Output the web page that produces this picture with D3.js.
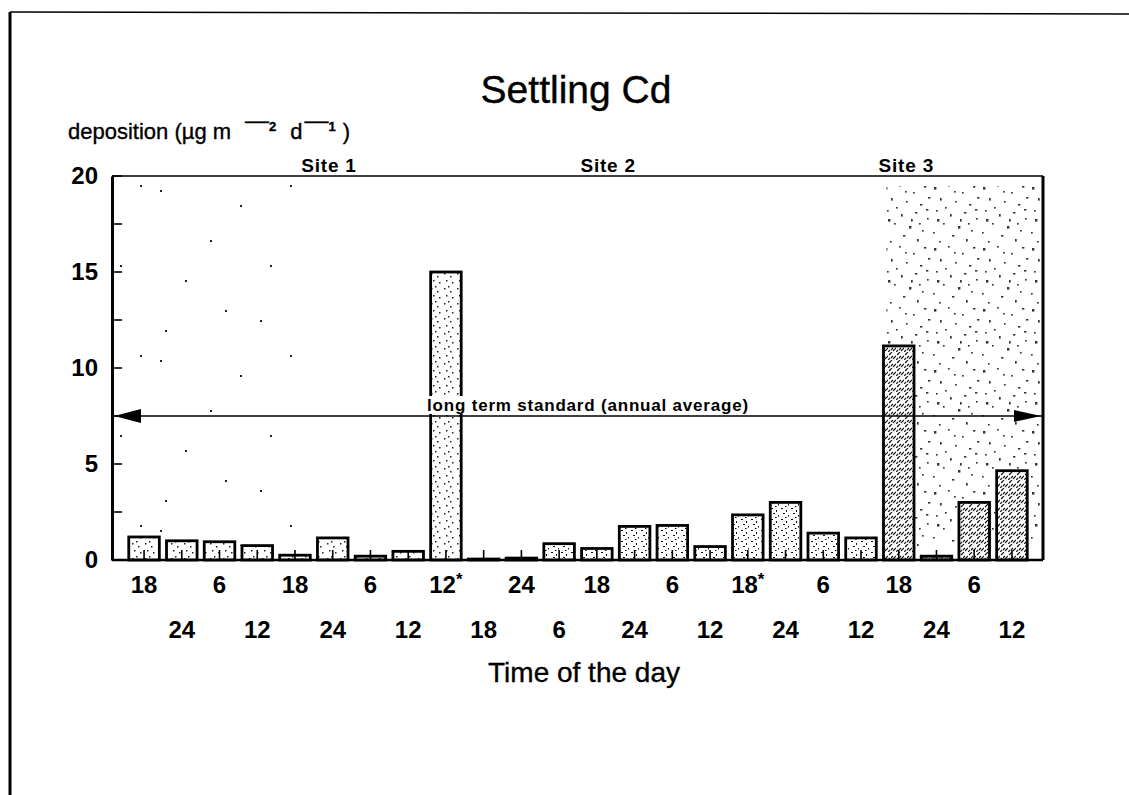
<!DOCTYPE html>
<html>
<head>
<meta charset="utf-8">
<script src="https://cdn.jsdelivr.net/npm/d3@7"></script>
<style>
  body { margin: 0; background: #fff; }
  svg { display: block; font-family: "Liberation Sans", Arial, Helvetica, sans-serif; }
</style>
</head>
<body>
<svg id="chart" width="1129" height="795"></svg>
<script>
// Sampling periods (time of day, 6-hour intervals); "*" marks flagged periods
const times = ["18","24","6","12","18","24","6","12","12*","18","24","6",
               "18","24","6","12","18*","24","6","12","18","24","6","12"];
// Settling Cd deposition per period (µg m-2 d-1)
const deposition = [1.2, 1.0, 0.95, 0.75, 0.25, 1.15, 0.2, 0.45, 15.0, 0.05, 0.1, 0.85,
                    0.6, 1.75, 1.8, 0.7, 2.35, 3.0, 1.4, 1.15, 11.15, 0.2, 3.0, 4.65];
// Site each period belongs to
const site = [1,1,1,1,1,1,1,1,1, 2,2,2,2,2,2,2,2,2,2,2, 3,3,3,3];
// Site headings and the (fractional) period index they are written above
const siteNames = ["Site 1", "Site 2", "Site 3"];
const siteAt = [4.9, 12.3, 20.2];
// Long term standard (annual average)
const standard = 7.5;
const yTicks = [0, 5, 10, 15, 20];
const yMinor = [2.5, 7.5, 12.5, 17.5];

const svg = d3.select("#chart");
const W = 1129, H = 795;
const plot = { left: 112, right: 1043, top: 176, bottom: 560 };

const x = d3.scaleBand()
  .domain(d3.range(times.length))
  .range([125, 1031])
  .paddingInner(0.19)
  .paddingOuter(0.1);
const center = i => x(0) + x.bandwidth() / 2 + i * x.step();

const y = d3.scaleLinear().domain([0, 20]).range([plot.bottom, plot.top]);

// ---- patterns -------------------------------------------------------
const defs = svg.append("defs");

// light stipple for site 1 bars
const pLight = defs.append("pattern").attr("id", "stip1")
  .attr("patternUnits", "userSpaceOnUse").attr("width", 13).attr("height", 15);
[[2,3],[8,6],[4,10],[10,12],[6,1]].forEach(([a,b]) =>
  pLight.append("rect").attr("x", a).attr("y", b).attr("width", 1.5).attr("height", 1.5).attr("fill", "#222"));

// medium stipple for site 2 bars
const pMed = defs.append("pattern").attr("id", "stip2")
  .attr("patternUnits", "userSpaceOnUse").attr("width", 10).attr("height", 11);
[[1,2,2,1],[6,4,1,2],[3,7,2,1],[8,9,1,1.5],[5,0,1.5,1]].forEach(([a,b,w,h]) =>
  pMed.append("rect").attr("x", a).attr("y", b).attr("width", w).attr("height", h).attr("fill", "#111"));

// dense hatch for site 3 bars
const pHeavy = defs.append("pattern").attr("id", "stip3")
  .attr("patternUnits", "userSpaceOnUse").attr("width", 8).attr("height", 8);
[[1,3,4,0],[5,7,8,4],[0,8,2,6],[3,6,5,4]].forEach(([a,b,c,d]) =>
  pHeavy.append("line").attr("x1", a).attr("y1", b).attr("x2", c).attr("y2", d)
    .attr("stroke", "#111").attr("stroke-width", 1.1));

// stippled background shading
const bgDots = [[3,4],[17,2],[31,9],[42,3],[9,15],[24,18],[38,21],[5,27],[19,31],[33,29],
                [45,35],[12,40],[27,43],[40,47],[2,49],[21,52],[35,56],[8,58],[46,14],[14,24],
                [29,36],[44,26],[23,8],[37,40],[6,36]];
const pBg = defs.append("pattern").attr("id", "bgstip")
  .attr("patternUnits", "userSpaceOnUse").attr("width", 49).attr("height", 61);
bgDots.forEach(([a,b], i) =>
  pBg.append("rect").attr("x", a).attr("y", b)
    .attr("width", i % 3 === 0 ? 2.4 : 1.7).attr("height", i % 4 === 0 ? 2.6 : 1.6)
    .attr("fill", "#111"));

const bgSparse = [[10,20],[60,70],[35,110],[90,35],[120,95],[75,140],[15,160],[140,15],[110,150]];
const pSparse = defs.append("pattern").attr("id", "bgsparse")
  .attr("patternUnits", "userSpaceOnUse").attr("width", 150).attr("height", 170);
bgSparse.forEach(([a,b]) =>
  pSparse.append("rect").attr("x", a).attr("y", b).attr("width", 2).attr("height", 2).attr("fill", "#222"));

// ---- page border ----------------------------------------------------
svg.append("line").attr("x1", 10).attr("y1", 12).attr("x2", 10).attr("y2", H)
  .attr("stroke", "#000").attr("stroke-width", 3);
svg.append("line").attr("x1", 10).attr("y1", 12).attr("x2", W).attr("y2", 14)
  .attr("stroke", "#000").attr("stroke-width", 1.5);

// ---- title & axis caption --------------------------------------------
svg.append("text").attr("x", 576).attr("y", 103).attr("text-anchor", "middle")
  .attr("font-size", 39).attr("stroke", "#000").attr("stroke-width", 0.4)
  .text("Settling Cd");

const yl = svg.append("text").attr("x", 68).attr("y", 139).attr("font-size", 22)
  .attr("stroke", "#000").attr("stroke-width", 0.35);
yl.append("tspan").text("deposition (µg m");
yl.append("tspan").attr("dx", 14).attr("dy", -11).attr("font-size", 24).text("—");
yl.append("tspan").attr("dy", 3).attr("font-size", 13).attr("font-weight", "bold").text("2");
yl.append("tspan").attr("dx", 14).attr("dy", 8).text("d");
yl.append("tspan").attr("dx", 2).attr("dy", -11).attr("font-size", 24).text("—");
yl.append("tspan").attr("dy", 3).attr("font-size", 13).attr("font-weight", "bold").text("1");
yl.append("tspan").attr("dx", 7).attr("dy", 8).text(")");

// background shading
svg.append("rect").attr("x", plot.left + 6).attr("y", plot.top + 6)
  .attr("width", 190).attr("height", plot.bottom - plot.top - 20)
  .attr("fill", "url(#bgsparse)");
svg.append("rect").attr("x", x(20) + 3).attr("y", plot.top + 10)
  .attr("width", plot.right - x(20) - 6).attr("height", plot.bottom - plot.top - 24)
  .attr("fill", "url(#bgstip)").attr("opacity", 0.85);

// ---- bars -----------------------------------------------------------
const bars = svg.append("g").selectAll("g").data(deposition).join("g");
bars.append("rect")
  .attr("x", (d, i) => x(i))
  .attr("y", d => y(d))
  .attr("width", x.bandwidth())
  .attr("height", d => y(0) - y(d))
  .attr("fill", "#fff");
bars.append("rect")
  .attr("x", (d, i) => x(i))
  .attr("y", d => y(d))
  .attr("width", x.bandwidth())
  .attr("height", d => y(0) - y(d))
  .attr("fill", (d, i) => `url(#stip${site[i]})`)
  .attr("stroke", "#000")
  .attr("stroke-width", 2.8);
// small stem at each bar foot
bars.append("line")
  .attr("x1", (d, i) => center(i))
  .attr("x2", (d, i) => center(i))
  .attr("y1", y(0))
  .attr("y2", y(0) - 10)
  .attr("stroke", "#000").attr("stroke-width", 1.6);

// ---- frame & axes ---------------------------------------------------
svg.append("line").attr("x1", plot.left).attr("x2", plot.right)
  .attr("y1", plot.top).attr("y2", plot.top).attr("stroke", "#000").attr("stroke-width", 1.4);
svg.append("line").attr("x1", plot.right).attr("x2", plot.right)
  .attr("y1", plot.top).attr("y2", plot.bottom).attr("stroke", "#000").attr("stroke-width", 3);
svg.append("line").attr("x1", plot.left).attr("x2", plot.right)
  .attr("y1", plot.bottom).attr("y2", plot.bottom).attr("stroke", "#000").attr("stroke-width", 2.6);

const yAxis = svg.append("g").attr("transform", `translate(${plot.left},0)`)
  .call(d3.axisLeft(y).tickValues(yTicks).tickSize(0).tickPadding(14).tickFormat(d3.format("d")));
yAxis.select(".domain").attr("stroke-width", 3);
yAxis.selectAll("text").attr("font-size", 24).attr("font-weight", "bold")
  .attr("font-family", "Liberation Sans, Arial, sans-serif").attr("fill", "#000");

// inward tick marks every 2.5 units
svg.append("g").selectAll("line").data(yTicks.concat(yMinor)).join("line")
  .attr("x1", plot.left).attr("x2", plot.left + 10)
  .attr("y1", d => y(d)).attr("y2", d => y(d))
  .attr("stroke", "#000").attr("stroke-width", 1.6);

// time-of-day labels in two staggered rows
const xl = svg.append("g").selectAll("text").data(times).join("text")
  .attr("x", (d, i) => center(i))
  .attr("y", (d, i) => i % 2 === 0 ? 593 : 638)
  .attr("text-anchor", "middle")
  .attr("font-size", 24).attr("font-weight", "bold");
xl.each(function(d) {
  const t = d3.select(this);
  t.append("tspan").text(d.replace("*", ""));
  if (d.endsWith("*")) {
    t.append("tspan").attr("dy", -8).attr("font-size", 17).text("*");
  }
});

svg.append("text").attr("x", 584).attr("y", 682).attr("text-anchor", "middle")
  .attr("font-size", 28).attr("stroke", "#000").attr("stroke-width", 0.35)
  .text("Time of the day");

// ---- site headings --------------------------------------------------
svg.append("g").selectAll("text").data(siteNames).join("text")
  .attr("x", (d, i) => center(siteAt[i]))
  .attr("y", plot.top - 4)
  .attr("text-anchor", "middle")
  .attr("font-size", 19).attr("font-weight", "bold").attr("letter-spacing", 0.8)
  .text(d => d);

// ---- long term standard ---------------------------------------------
const ys = y(standard);
svg.append("rect").attr("x", 424).attr("y", ys - 20).attr("width", 328).attr("height", 18)
  .attr("fill", "#fff");
svg.append("line").attr("x1", plot.left).attr("x2", plot.right)
  .attr("y1", ys).attr("y2", ys).attr("stroke", "#000").attr("stroke-width", 1.6);
svg.append("path")
  .attr("d", `M${plot.left + 2},${ys} L${plot.left + 29},${ys - 7} L${plot.left + 29},${ys + 7} Z`)
  .attr("fill", "#000");
svg.append("path")
  .attr("d", `M${plot.right - 2},${ys} L${plot.right - 29},${ys - 6} L${plot.right - 29},${ys + 6} Z`)
  .attr("fill", "#000");
svg.append("text").attr("x", 588).attr("y", ys - 5).attr("text-anchor", "middle")
  .attr("font-size", 17).attr("font-weight", "bold").attr("letter-spacing", 0.8)
  .text("long term standard (annual average)");
</script>
</body>
</html>
